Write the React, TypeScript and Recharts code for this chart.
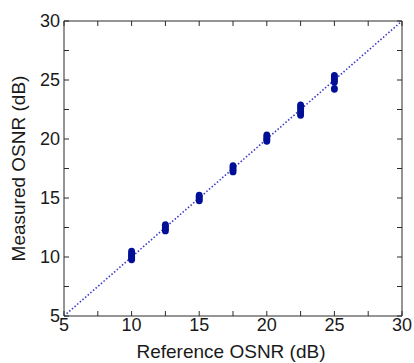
import { ScatterChart, Scatter, XAxis, YAxis } from 'recharts';

const TICKS   = [5, 7.5, 10, 12.5, 15, 17.5, 20, 22.5, 25, 27.5, 30];
const DOMAIN: [number, number] = [5, 30];

// reference OSNR settings and the measured values at each
const REF_OSNR = [10, 12.5, 15, 17.5, 20, 22.5, 25];
const MEASURED = [
  [9.8, 10.0, 10.2, 10.45],
  [12.25, 12.45, 12.7],
  [14.8, 15.0, 15.2],
  [17.25, 17.45, 17.7],
  [19.85, 20.05, 20.3],
  [22.05, 22.3, 22.6, 22.85],
  [24.25, 24.85, 25.1, 25.35],
];
const IDEAL = [5, 30];

const FONT  = '"Liberation Sans", Arial, sans-serif';
const INK   = '#1a1a1a';
const FRAME = '#2a2a2a';
const DOT   = '#000f96';
const TICK_LEN = 5;

const points = REF_OSNR.flatMap((r, i) => MEASURED[i].map((m) => ({ x: r, y: m })));
const ideal  = IDEAL.map((v) => ({ x: v, y: v }));

const isMajor = (v: number) => v % 5 === 0;

function BottomTick({ x, y, payload }: any) {
  return (
    <g>
      <line x1={x} x2={x} y1={y} y2={y - TICK_LEN} stroke={FRAME} />
      {isMajor(payload.value) && (
        <text x={x} y={y + 1} dy="0.8em" textAnchor="middle" fontSize={18} fontFamily={FONT} fill={INK}>
          {payload.value}
        </text>
      )}
    </g>
  );
}

function TopTick({ x, y }: any) {
  return <line x1={x} x2={x} y1={y} y2={y + TICK_LEN} stroke={FRAME} />;
}

function LeftTick({ x, y, payload }: any) {
  return (
    <g>
      <line x1={x} x2={x + TICK_LEN} y1={y} y2={y} stroke={FRAME} />
      {isMajor(payload.value) && (
        <text x={x - 4} y={y} dy="0.35em" textAnchor="end" fontSize={18} fontFamily={FONT} fill={INK}>
          {payload.value}
        </text>
      )}
    </g>
  );
}

function RightTick({ x, y }: any) {
  return <line x1={x} x2={x - TICK_LEN} y1={y} y2={y} stroke={FRAME} />;
}

const Dot = ({ cx, cy }: any) => <ellipse cx={cx} cy={cy} rx={3.5} ry={3.9} fill={DOT} />;

export default function App() {
  return (
    <div style={{ position: 'absolute', left: 0, top: 0, background: '#fff' }}>
      <ScatterChart width={414} height={363} margin={{ top: 20, right: 11, left: 0, bottom: 0 }}>
        <XAxis
          xAxisId="b" type="number" dataKey="x" domain={DOMAIN} ticks={TICKS} interval={0}
          height={47} tickSize={0} tickMargin={0} tick={<BottomTick />}
          axisLine={{ stroke: FRAME }} allowDataOverflow
          label={{
            content: ({ viewBox }: any) => (
              <text x={viewBox.x + viewBox.width / 2 - 2} y={viewBox.y + 35} dy="0.35em" textAnchor="middle"
                fontSize={19} fontFamily={FONT} fill={INK}>
                Reference OSNR (dB)
              </text>
            ),
          }}
        />
        <XAxis
          xAxisId="t" orientation="top" type="number" dataKey="x" domain={DOMAIN} ticks={TICKS} interval={0}
          height={1} tickSize={0} tickMargin={0} tick={<TopTick />} axisLine={{ stroke: FRAME }} allowDataOverflow
        />
        <YAxis
          yAxisId="l" type="number" dataKey="y" domain={DOMAIN} ticks={TICKS} interval={0}
          width={64} tickSize={0} tickMargin={0} tick={<LeftTick />}
          axisLine={{ stroke: FRAME }} allowDataOverflow
          label={{
            content: ({ viewBox }: any) => {
              const cx = 18;
              const cy = viewBox.y + viewBox.height / 2;
              return (
                <text x={cx} y={cy} dy="0.35em" textAnchor="middle" transform={`rotate(-90 ${cx} ${cy})`}
                  fontSize={19} fontFamily={FONT} fill={INK}>
                  Measured OSNR (dB)
                </text>
              );
            },
          }}
        />
        <YAxis
          yAxisId="r" orientation="right" type="number" dataKey="y" domain={DOMAIN} ticks={TICKS} interval={0}
          width={1} tickSize={0} tickMargin={0} tick={<RightTick />} axisLine={{ stroke: FRAME }} allowDataOverflow
        />
        <Scatter
          xAxisId="t" yAxisId="r" data={ideal} isAnimationActive={false}
          line={{ stroke: '#3a3ac8', strokeWidth: 1.6, strokeDasharray: '1.5 2' }}
          shape={() => <g />}
        />
        <Scatter xAxisId="b" yAxisId="l" data={points} isAnimationActive={false} shape={<Dot />} />
      </ScatterChart>
    </div>
  );
}
